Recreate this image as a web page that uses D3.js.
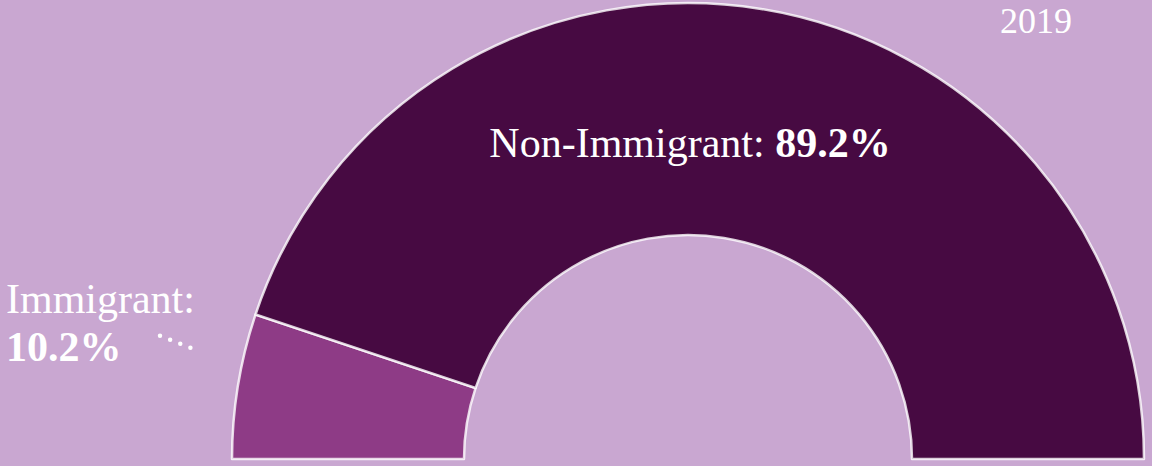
<!DOCTYPE html>
<html>
<head>
<meta charset="utf-8">
<script src="https://cdn.jsdelivr.net/npm/d3@7"></script>
<style>
  html, body { margin: 0; padding: 0; background: #c9a7d1; }
  svg { display: block; }
  text { font-family: "Liberation Serif", "Times New Roman", serif; fill: #fff; }
</style>
</head>
<body>
<div id="chart"></div>
<script>
// values
var categories = ["Immigrant", "Non-Immigrant"];
var values = [10.2, 89.2];
var colors = ["#8e3b86", "#470a42"];
var yearLabel = "2019";

var width = 1152, height = 466;
var cx = 688, cy = 459;
var outerR = 456, innerR = 224;

var svg = d3.select("#chart")
    .append("svg")
    .attr("width", width)
    .attr("height", height)
    .attr("viewBox", "0 0 " + width + " " + height);

svg.append("rect")
    .attr("width", width)
    .attr("height", height)
    .attr("fill", "#c9a7d1");

var pie = d3.pie()
    .sort(null)
    .startAngle(-Math.PI / 2)
    .endAngle(Math.PI / 2);

var arc = d3.arc()
    .innerRadius(innerR)
    .outerRadius(outerR);

var slices = pie(values);

var g = svg.append("g")
    .attr("transform", "translate(" + cx + "," + cy + ")");

g.selectAll("path")
    .data(slices)
    .enter()
    .append("path")
    .attr("d", arc)
    .attr("fill", function (d, i) { return colors[i]; })
    .attr("stroke", "#fff")
    .attr("stroke-opacity", 0.8)
    .attr("stroke-width", 2.5)
    .attr("stroke-linejoin", "round");

// big slice label, centred over the arc
var big = svg.append("text")
    .attr("x", cx + 2)
    .attr("y", 157)
    .attr("text-anchor", "middle")
    .style("font-size", "42px");
big.append("tspan").text(categories[1] + ": ");
big.append("tspan").style("font-weight", "bold").text(values[1].toFixed(1) + "%");

// small slice label, off to the left
var small = svg.append("text")
    .attr("x", 6)
    .attr("y", 313)
    .style("font-size", "42px");
small.append("tspan").text(categories[0] + ":");
small.append("tspan")
    .attr("x", 6)
    .attr("y", 361)
    .style("font-weight", "bold")
    .text(values[0].toFixed(1) + "%");

// dotted leader towards the slice
svg.append("line")
    .attr("x1", 160)
    .attr("y1", 335.7)
    .attr("x2", 191)
    .attr("y2", 348)
    .attr("stroke", "#fff")
    .attr("stroke-width", 4.5)
    .attr("stroke-linecap", "round")
    .attr("stroke-dasharray", "0 10.9");

svg.append("text")
    .attr("x", 1072)
    .attr("y", 33)
    .attr("text-anchor", "end")
    .style("font-size", "36px")
    .text(yearLabel);
</script>
</body>
</html>
